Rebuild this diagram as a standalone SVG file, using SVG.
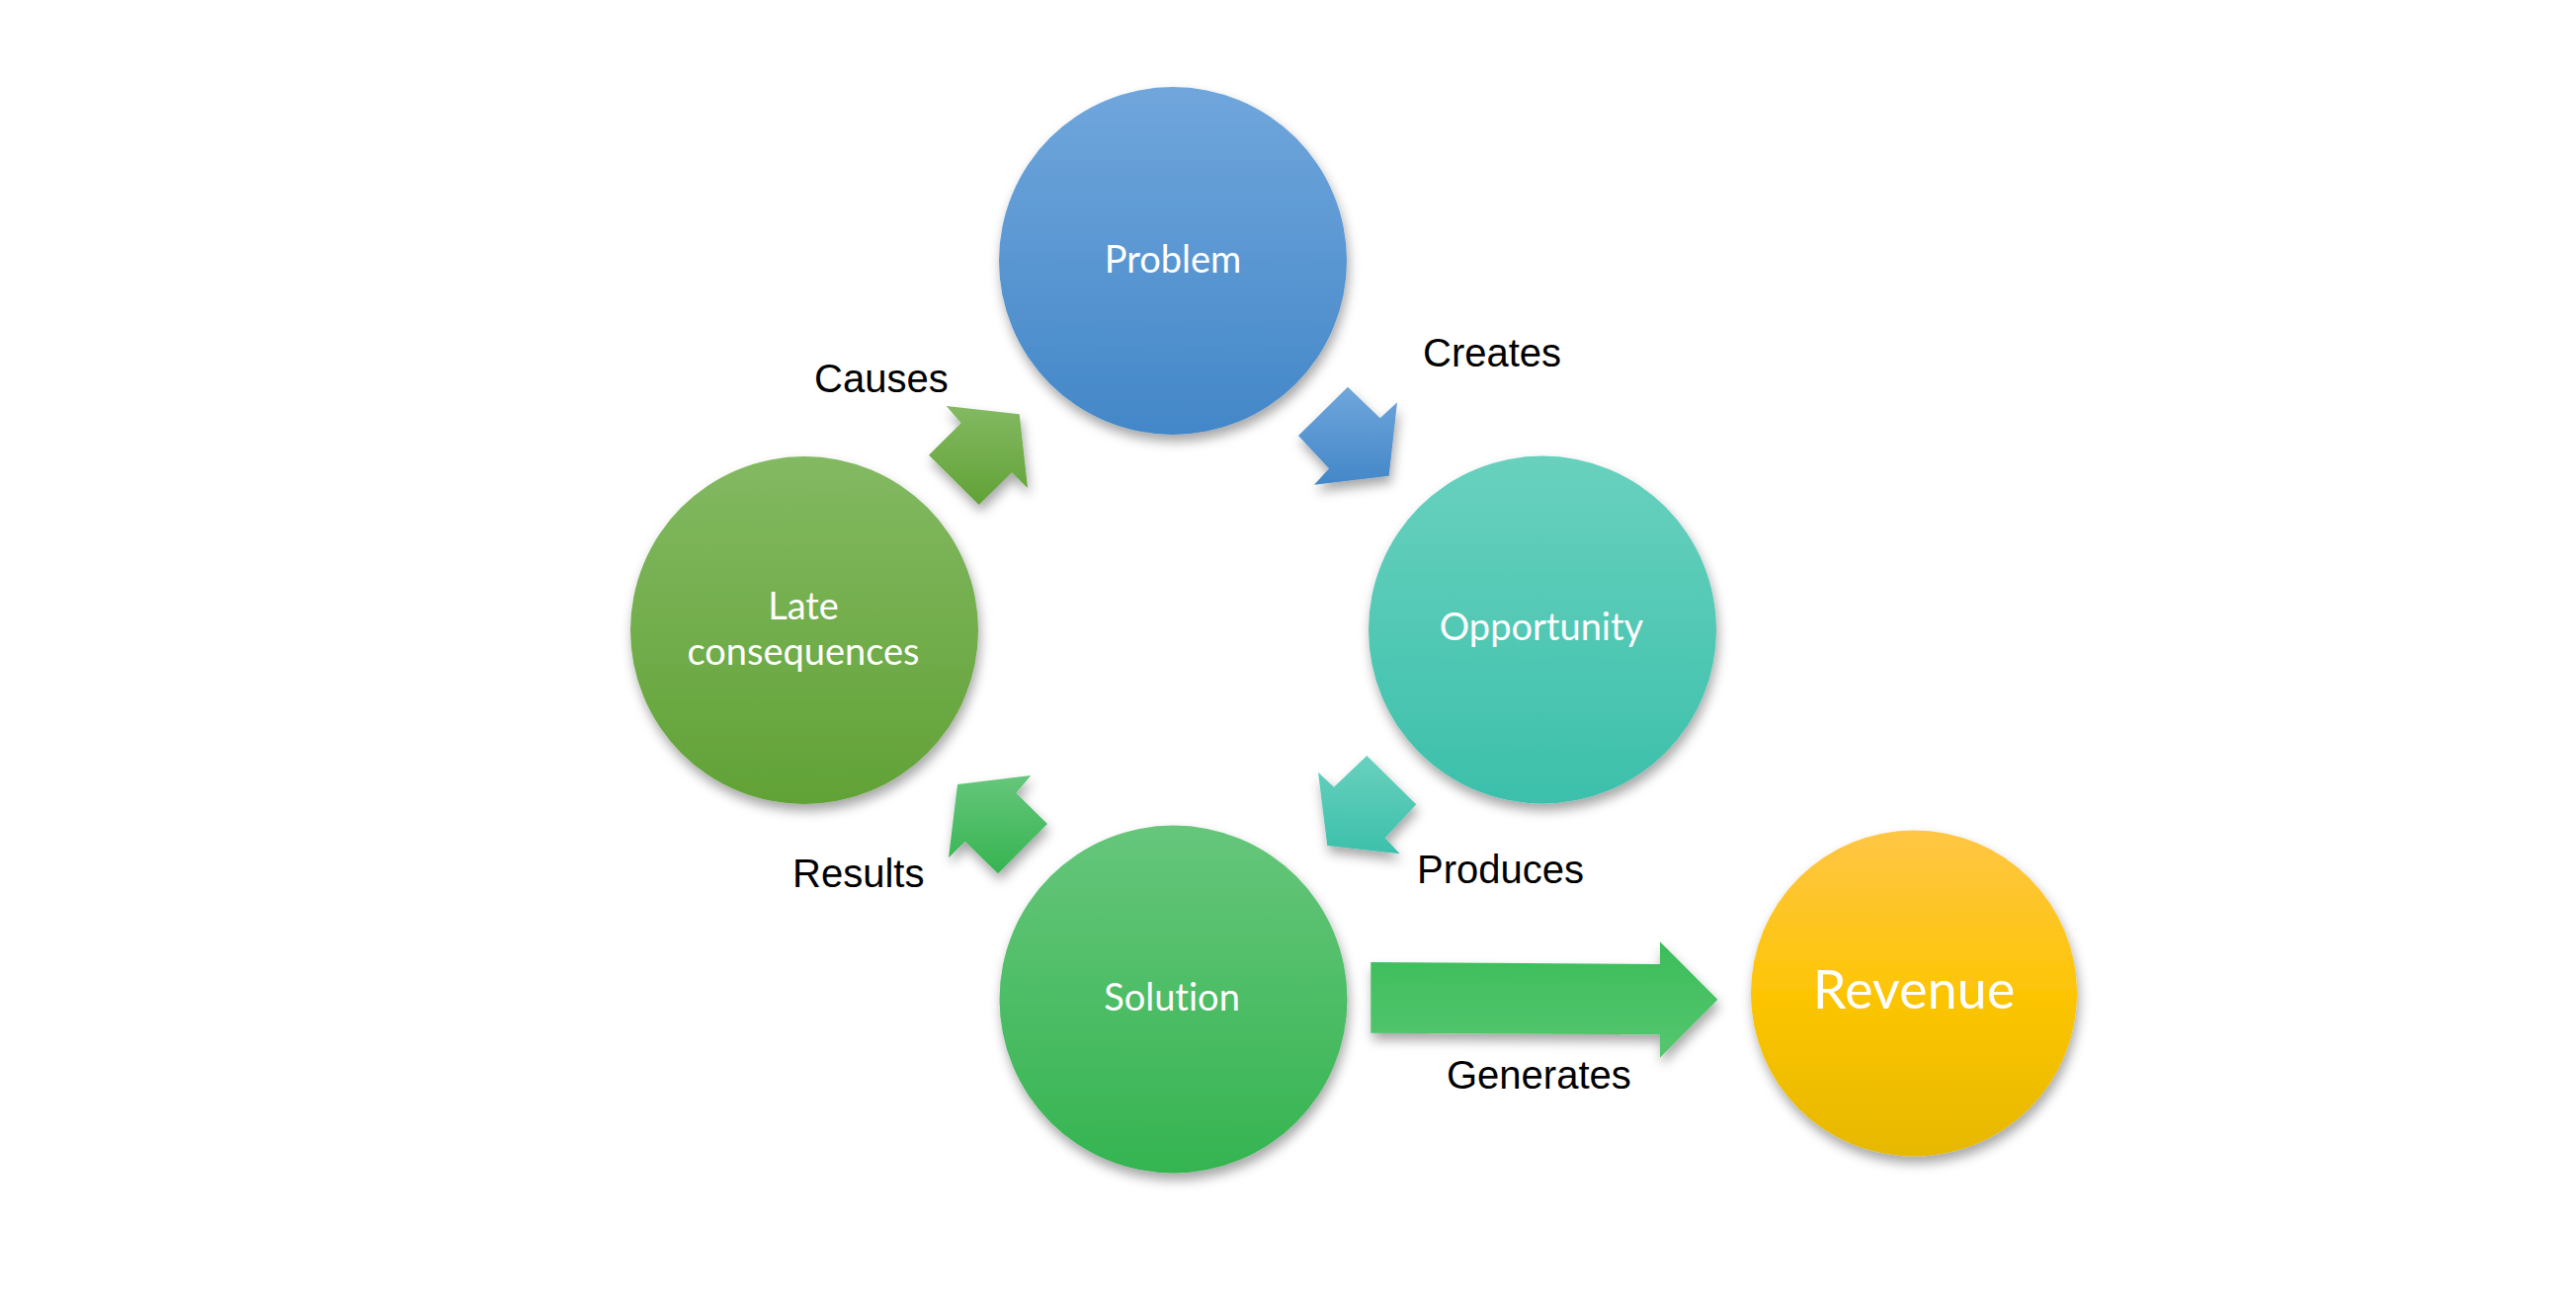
<svg xmlns="http://www.w3.org/2000/svg" width="2607" height="1320" viewBox="0 0 2607 1320">
<defs>
<linearGradient id="gBlue" x1="0" y1="0" x2="0" y2="1"><stop offset="0" stop-color="#70a6dc"/><stop offset="1" stop-color="#4387c8"/></linearGradient>
<linearGradient id="gTeal" x1="0" y1="0" x2="0" y2="1"><stop offset="0" stop-color="#68d1be"/><stop offset="1" stop-color="#3cc0ab"/></linearGradient>
<linearGradient id="gOlive" x1="0" y1="0" x2="0" y2="1"><stop offset="0" stop-color="#83b962"/><stop offset="1" stop-color="#61a236"/></linearGradient>
<linearGradient id="gGreen" x1="0" y1="0" x2="0" y2="1"><stop offset="0" stop-color="#66c67b"/><stop offset="1" stop-color="#35b451"/></linearGradient>
<linearGradient id="gGreenRev" x1="0" y1="0" x2="0" y2="1"><stop offset="0" stop-color="#3bbd5a"/><stop offset="1" stop-color="#56c66f"/></linearGradient>
<linearGradient id="gGold" x1="0" y1="0" x2="0" y2="1"><stop offset="0" stop-color="#ffc645"/><stop offset="0.5" stop-color="#fdc505"/><stop offset="1" stop-color="#e6b800"/></linearGradient>
<filter id="shadow" x="-20%" y="-20%" width="140%" height="150%">
<feDropShadow dx="2" dy="7" stdDeviation="6" flood-color="#000" flood-opacity="0.35"/>
</filter>
</defs>
<style>
.node{font-family:Lato,"Open Sans","Noto Sans",sans-serif;fill:#ffffff;text-anchor:middle;font-size:38px;font-variant-ligatures:none;font-feature-settings:"liga" 0,"clig" 0}
.big{font-size:54px}
.lbl{font-family:"Liberation Sans",Arial,sans-serif;font-size:40px;fill:#000000}
.sh{filter:url(#shadow)}
</style>
<rect width="2607" height="1320" fill="#ffffff"/>
<g id="connectors">
<g id="arrow-creates">
<polygon class="sh" fill="url(#gBlue)" points="1364,391.7 1396.7,423.3 1414,407.3 1405.7,481.7 1330,490.7 1345,474.3 1314,441"/>
<text class="lbl" x="1440" y="371">Creates</text>
</g>
<g id="arrow-produces">
<polygon class="sh" fill="url(#gTeal)" points="1383.3,765 1433.3,814.3 1401.7,848.3 1416.7,864.3 1343.3,856 1334,781.7 1350,796.7"/>
<text class="lbl" x="1434" y="894">Produces</text>
</g>
<g id="arrow-results">
<polygon class="sh" fill="url(#gGreen)" points="969,794 1043.3,785 1028.3,802.7 1060,834 1010,884.3 976.7,851.7 960,868.3"/>
<text class="lbl" x="802" y="898">Results</text>
</g>
<g id="arrow-causes">
<polygon class="sh" fill="url(#gOlive)" points="957.7,411 1031.7,419.3 1040,494 1024,478.3 990.7,511 940,460.7 972.7,428.3"/>
<text class="lbl" x="824" y="397">Causes</text>
</g>
<g id="arrow-generates">
<polygon class="sh" fill="url(#gGreenRev)" points="1387.3,974 1680,976 1680,953.3 1738.3,1011.7 1680,1070.7 1680,1047.3 1387.3,1045.7"/>
<text class="lbl" x="1464" y="1102">Generates</text>
</g>
</g>
<g id="node-problem">
<circle class="sh" cx="1187" cy="264" r="176" fill="url(#gBlue)"/>
<text class="node" x="1187" y="276">Problem</text>
</g>
<g id="node-opportunity">
<circle class="sh" cx="1561" cy="637.5" r="176" fill="url(#gTeal)"/>
<text class="node" x="1560" y="648">Opportunity</text>
</g>
<g id="node-solution">
<circle class="sh" cx="1187.5" cy="1011.5" r="176" fill="url(#gGreen)"/>
<text class="node" x="1186" y="1023">Solution</text>
</g>
<g id="node-late">
<circle class="sh" cx="814" cy="638" r="176" fill="url(#gOlive)"/>
<text class="node" x="813" y="627">Late</text>
<text class="node" x="813" y="673">consequences</text>
</g>
<g id="node-revenue">
<circle class="sh" cx="1937" cy="1005.5" r="165" fill="url(#gGold)"/>
<text class="node big" x="1937" y="1021">Revenue</text>
</g>
</svg>
